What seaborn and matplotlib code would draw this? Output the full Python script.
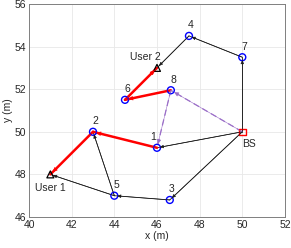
import matplotlib
matplotlib.use("Agg")
import matplotlib.pyplot as plt
import seaborn as sns
import pandas as pd

# ---- data ----
relay_ids = ["1", "2", "3", "4", "5", "6", "7", "8"]
relay_x = [46.0, 43.0, 46.6, 47.5, 44.0, 44.5, 50.0, 46.65]
relay_y = [49.25, 50.0, 46.8, 54.5, 47.0, 51.5, 53.5, 51.95]
bs_x, bs_y = [50.0], [50.0]
user_names = ["User 1", "User 2"]
user_x = [41.0, 46.0]
user_y = [48.0, 53.0]

# edges (from, to)
black_edges = [("BS", "1"), ("BS", "3"), ("3", "5"), ("5", "User 1"), ("5", "2"),
               ("BS", "7"), ("7", "4"), ("4", "User 2")]
red_edges = [("1", "2"), ("2", "User 1"), ("8", "6"), ("6", "User 2")]
purple_edges = [("BS", "8"), ("8", "1")]

xticks = [40, 42, 44, 46, 48, 50, 52]
yticks = [46, 48, 50, 52, 54, 56]

# ---- build lookup ----
pos = {n: (x, y) for n, x, y in zip(relay_ids, relay_x, relay_y)}
pos["BS"] = (bs_x[0], bs_y[0])
for n, x, y in zip(user_names, user_x, user_y):
    pos[n] = (x, y)

sns.set_style("whitegrid")
plt.rcParams["font.family"] = ["Liberation Sans", "DejaVu Sans"]
fig = plt.figure(figsize=(2.91, 2.48), dpi=100)
ax = fig.add_axes([0.0997, 0.125, 0.8795, 0.859])

def draw_edges(edges, color, lw, ls, ms, shrink):
    for a, b in edges:
        xa, ya = pos[a]
        xb, yb = pos[b]
        df = pd.DataFrame({"x": [xa, xb], "y": [ya, yb]})
        sns.lineplot(data=df, x="x", y="y", ax=ax, color=color, lw=lw,
                     linestyle=ls, sort=False, estimator=None, zorder=2)
        ax.annotate("", xy=(xb, yb), xytext=(xa, ya),
                    arrowprops=dict(arrowstyle="-|>,head_length=0.5,head_width=0.22",
                                    color=color, lw=0.4, linestyle="-",
                                    mutation_scale=ms, shrinkA=0, shrinkB=shrink),
                    zorder=5)

draw_edges(black_edges, "#1a1a1a", 0.6, "-", 4.5, 2.0)
draw_edges(red_edges, "#ff0000", 1.8, "-", 6, 2.2)
draw_edges(purple_edges, "#9b6fc8", 0.9, (0, (5, 3)), 6, 2.5)

relays = pd.DataFrame({"x": relay_x, "y": relay_y})
sns.scatterplot(data=relays, x="x", y="y", ax=ax, marker="o", s=25,
                facecolor="none", edgecolor="#0000ff", linewidth=1.0, zorder=4)
ax.scatter(bs_x, bs_y, marker="s", s=22, facecolor="none", edgecolor="#ff0000",
           linewidth=1.0, zorder=4)
ax.scatter(user_x, user_y, marker="^", s=25, facecolor="none", edgecolor="black",
           linewidth=0.9, zorder=4)

# labels
fs = 7.5
tc = "#262626"
for n, x, y in zip(relay_ids, relay_x, relay_y):
    dx = -0.2 if n == "1" else 0.1
    ax.text(x + dx, y + 0.5, n, fontsize=fs, ha="center", va="center", color=tc)
ax.text(bs_x[0] + 0.3, bs_y[0] - 0.55, "BS", fontsize=fs, ha="center", va="center", color=tc)
ax.text(user_x[0], user_y[0] - 0.62, user_names[0], fontsize=fs, ha="center", va="center", color=tc)
ax.text(user_x[1] - 0.56, user_y[1] + 0.5, user_names[1], fontsize=fs, ha="center", va="center", color=tc)

ax.set_xlim(40, 52)
ax.set_ylim(46, 56)
ax.set_xticks(xticks)
ax.set_yticks(yticks)
ax.tick_params(labelsize=fs, colors=tc, length=0, pad=2)
ax.set_xlabel("x (m)", fontsize=fs, color=tc, labelpad=1)
ax.set_ylabel("y (m)", fontsize=fs, color=tc, labelpad=1)
ax.grid(True, color="#e8e8e8", lw=0.6)
for s in ax.spines.values():
    s.set_color("#7f7f7f")
    s.set_linewidth(0.7)

fig.savefig("out.png", dpi=100)
